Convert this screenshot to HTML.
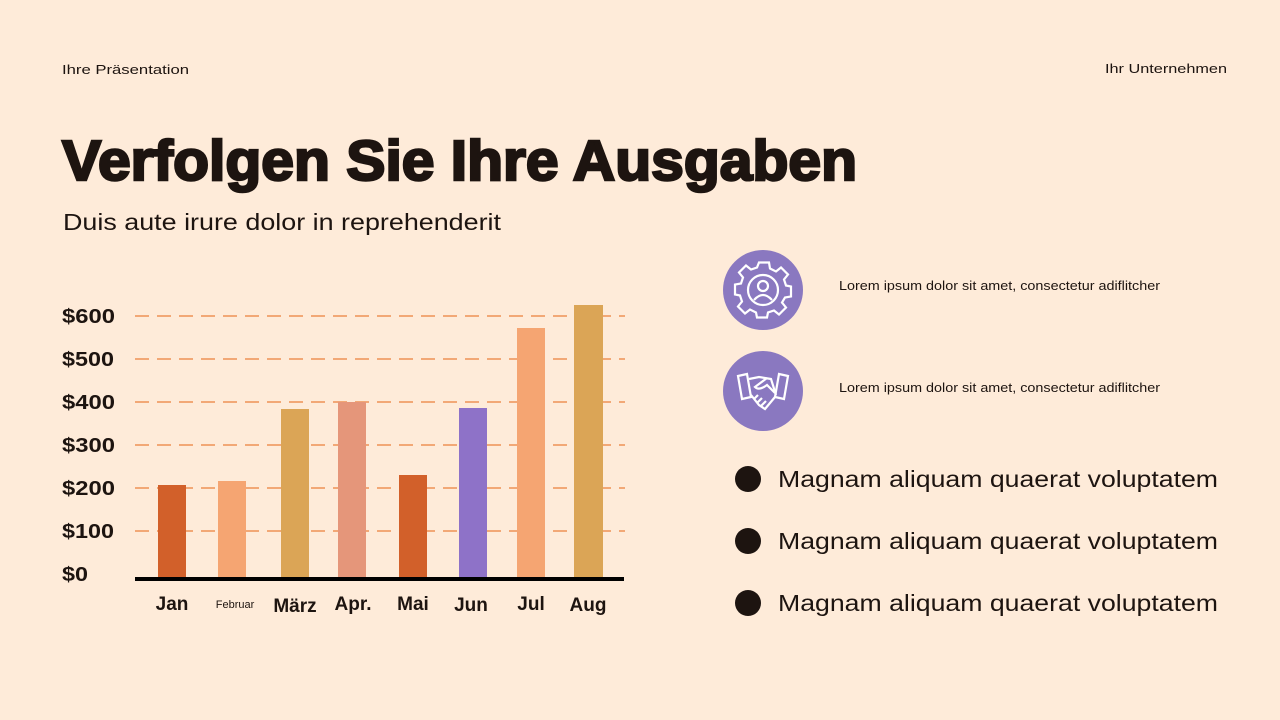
<!DOCTYPE html>
<html><head><meta charset="utf-8"><style>
html,body{margin:0;padding:0;background:#FEEBD9;}
svg{display:block;font-family:"Liberation Sans",sans-serif;}
</style></head><body>
<svg width="1280" height="720" viewBox="0 0 1280 720" xmlns="http://www.w3.org/2000/svg">
<rect width="1280" height="720" fill="#FEEBD9"/>
<text x="62" y="74" font-size="13" fill="#1d1410" textLength="127" lengthAdjust="spacingAndGlyphs">Ihre Präsentation</text>
<text x="1105" y="73" font-size="13" fill="#1d1410" textLength="122" lengthAdjust="spacingAndGlyphs">Ihr Unternehmen</text>
<text x="62" y="180" font-size="57" font-weight="bold" fill="#1d1410" stroke="#1d1410" stroke-width="2.5" textLength="795" lengthAdjust="spacingAndGlyphs">Verfolgen Sie Ihre Ausgaben</text>
<text x="63" y="230" font-size="23" fill="#1d1410" textLength="438" lengthAdjust="spacingAndGlyphs">Duis aute irure dolor in reprehenderit</text>
<g stroke="#F2A876" stroke-width="2" stroke-dasharray="14,8">
<line x1="135" y1="316" x2="625" y2="316"/>
<line x1="135" y1="359" x2="625" y2="359"/>
<line x1="135" y1="402" x2="625" y2="402"/>
<line x1="135" y1="445" x2="625" y2="445"/>
<line x1="135" y1="488" x2="625" y2="488"/>
<line x1="135" y1="531" x2="625" y2="531"/>
</g>
<g font-size="20" font-weight="bold" fill="#1d1410">
<text x="62" y="323" textLength="53" lengthAdjust="spacingAndGlyphs">$600</text><text x="62" y="366" textLength="52" lengthAdjust="spacingAndGlyphs">$500</text><text x="62" y="409" textLength="53" lengthAdjust="spacingAndGlyphs">$400</text>
<text x="62" y="452" textLength="53" lengthAdjust="spacingAndGlyphs">$300</text><text x="62" y="495" textLength="53" lengthAdjust="spacingAndGlyphs">$200</text><text x="62" y="538" textLength="52" lengthAdjust="spacingAndGlyphs">$100</text>
<text x="62" y="581" textLength="26" lengthAdjust="spacingAndGlyphs">$0</text>
</g>
<rect x="158" y="485" width="28" height="93" fill="#D2602A"/>
<rect x="218" y="481" width="28" height="97" fill="#F5A572"/>
<rect x="281" y="409" width="28" height="169" fill="#DBA556"/>
<rect x="338" y="402" width="28" height="176" fill="#E5967A"/>
<rect x="399" y="475" width="28" height="103" fill="#D2602A"/>
<rect x="459" y="408" width="28" height="170" fill="#8E72C8"/>
<rect x="517" y="328" width="28" height="250" fill="#F5A572"/>
<rect x="574" y="305" width="29" height="273" fill="#DBA556"/>
<rect x="135" y="577" width="489" height="4" fill="#000"/>
<g font-size="19" font-weight="bold" fill="#1d1410" text-anchor="middle">
<text x="172" y="610">Jan</text>
<text x="235" y="608" font-size="11" font-weight="normal">Februar</text>
<text x="295" y="612">März</text>
<text x="353" y="610">Apr.</text>
<text x="413" y="610">Mai</text>
<text x="471" y="611">Jun</text>
<text x="531" y="610">Jul</text>
<text x="588" y="611">Aug</text>
</g>
<circle cx="763" cy="290" r="40" fill="#8A78C0"/>
<g fill="none" stroke="#fff" stroke-width="2.2" transform="translate(763,290)">
<path d="M-5,-25 L5,-25 L6,-19 L12,-16 L17,-20 L24,-13 L20,-8 L22,-2 L27,-1 L27,9 L21,10 L18,15 L22,20 L15,27 L10,23 L4,25 L3,30 L-7,30 L-8,25 L-14,22 L-19,26 L-26,19 L-22,14 L-24,8 L-29,7 L-29,-3 L-23,-4 L-21,-10 L-25,-15 L-18,-22 L-13,-18 L-7,-20 Z" transform="translate(1,-2.5)"/>
<circle cx="0" cy="0" r="15"/>
<circle cx="0" cy="-4" r="5"/>
<path d="M-9,10 Q0,0 9,10"/>
</g>
<circle cx="763" cy="391" r="40" fill="#8A78C0"/>
<g fill="none" stroke="#fff" stroke-width="2.2" transform="translate(763,391)">
<path d="M-25,-15 L-16,-17 L-12,6 L-21,8 Z"/>
<path d="M25,-15 L16,-17 L12,6 L21,8 Z"/>
<path d="M-14,-12 L-4,-14 L8,-12 L13,4"/>
<path d="M4,-13 L-8,-4 Q-4,0 4,-6 L12,2"/>
<path d="M-12,4 L-4,14 L2,18 L12,6"/>
<path d="M-9,8 L-5,4 M-6,12 L-1,7 M-2,15 L3,10"/>
</g>
<g font-size="12.5" fill="#1d1410">
<text x="839" y="290" textLength="321" lengthAdjust="spacingAndGlyphs">Lorem ipsum dolor sit amet, consectetur adiflitcher</text>
<text x="839" y="392" textLength="321" lengthAdjust="spacingAndGlyphs">Lorem ipsum dolor sit amet, consectetur adiflitcher</text>
</g>
<g fill="#1d1410">
<circle cx="748" cy="479" r="13"/><circle cx="748" cy="541" r="13"/><circle cx="748" cy="603" r="13"/>
</g>
<g font-size="23" fill="#1d1410">
<text x="778" y="487" textLength="440" lengthAdjust="spacingAndGlyphs">Magnam aliquam quaerat voluptatem</text>
<text x="778" y="549" textLength="440" lengthAdjust="spacingAndGlyphs">Magnam aliquam quaerat voluptatem</text>
<text x="778" y="611" textLength="440" lengthAdjust="spacingAndGlyphs">Magnam aliquam quaerat voluptatem</text>
</g>
</svg>
</body></html>
